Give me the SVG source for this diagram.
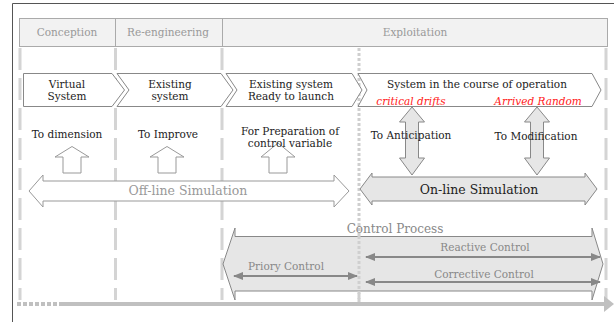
<svg xmlns="http://www.w3.org/2000/svg" width="614" height="322" viewBox="0 0 614 322">
<defs>
<style>
text{font-family:"DejaVu Serif",serif;font-size:10.5px;text-anchor:middle;fill:#222}
.hdr{fill:#999}
.gray{fill:#888}
.red{fill:#ff2020;font-style:italic}
.big{font-size:12.5px}
.vline{stroke:#d4d4d4;stroke-width:3;stroke-dasharray:22 8;fill:none}
.dot{stroke:#cfcfcf;stroke-width:3;stroke-dasharray:3 2;fill:none}
.chev{fill:#fff;stroke:#888;stroke-width:1}
.hollow{fill:#fff;stroke:#999;stroke-width:1}
.shade{fill:#e6e6e6;stroke:#888;stroke-width:1}
.dbl{stroke:#888;stroke-width:2;fill:none;marker-start:url(#ah);marker-end:url(#ah)}
</style>
<marker id="ah" viewBox="0 0 10 8" refX="9" refY="4" markerWidth="10" markerHeight="8" markerUnits="userSpaceOnUse" orient="auto-start-reverse">
<path d="M0,0 L10,4 L0,8 Z" fill="#888"/>
</marker>
</defs>
<rect width="614" height="322" fill="#fff"/>
<path d="M12.5,322 V3.5 H614" fill="none" stroke="#555" stroke-width="1"/>

<g id="header">
<rect x="19.5" y="18.5" width="588" height="28" fill="#f2f2f2" stroke="#aaa"/>
<line x1="115.5" y1="18.5" x2="115.5" y2="46.5" stroke="#aaa"/>
<line x1="222.5" y1="18.5" x2="222.5" y2="46.5" stroke="#aaa"/>
<text class="hdr" x="67" y="36">Conception</text>
<text class="hdr" x="168" y="36">Re-engineering</text>
<text class="hdr" x="415" y="36">Exploitation</text>
</g>

<g id="guides">
<line class="vline" x1="20" y1="48" x2="20" y2="300"/>
<line class="vline" x1="115.5" y1="48" x2="115.5" y2="300"/>
<line class="vline" x1="222" y1="48" x2="222" y2="300"/>
<line class="vline" x1="606" y1="48" x2="606" y2="300"/>
<line class="dot" x1="359" y1="48" x2="359" y2="302"/>
</g>

<g id="chevron-virtual">
<path class="chev" d="M23.5,73.5 H112 L124.5,90 L112,106.5 H23.5 Z"/>
<text x="67" y="88">Virtual</text>
<text x="67" y="100">System</text>
</g>
<g id="chevron-existing">
<path class="chev" d="M117,73.5 H221 L233,90 L221,106.5 H117 L129,90 Z"/>
<text x="170" y="88">Existing</text>
<text x="170" y="100">system</text>
</g>
<g id="chevron-ready">
<path class="chev" d="M226,73.5 H352 L362,90 L352,106.5 H226 L237,90 Z"/>
<text x="291" y="88">Existing system</text>
<text x="291" y="100">Ready to launch</text>
</g>
<g id="chevron-operation">
<path class="chev" d="M358,73.5 H592 L601,90 L592,106.5 H358 L367,90 Z"/>
<text x="477" y="88">System in the course of operation</text>
<text class="red" x="411" y="105">critical drifts</text>
<text class="red" x="538" y="105">Arrived Random</text>
</g>

<g id="offline-simulation">
<path class="hollow" d="M29,191 L43,175 V181 H334 V175 L349,191 L334,207 V201 H43 V207 Z"/>
<text class="hdr big" x="188" y="195">Off-line Simulation</text>
</g>

<g id="to-dimension">
<path class="hollow" d="M72,146.5 L89,157 H81 V173 H63 V157 H55 Z"/>
<text x="67" y="138">To dimension</text>
</g>
<g id="to-improve">
<path class="hollow" d="M167,146.5 L184,157 H176 V173 H158 V157 H150 Z"/>
<text x="168" y="138">To Improve</text>
</g>
<g id="for-preparation">
<path class="hollow" d="M278,143 L295,157 H287 V173 H269 V157 H261 Z"/>
<text x="290" y="135">For Preparation of</text>
<text x="290" y="147">control variable</text>
</g>

<g id="online-simulation">
<path class="shade" d="M360,189 L372,173 V177 H585 V173 L597,189 L585,205 V201 H372 V205 Z"/>
<text class="big" x="479" y="194">On-line Simulation</text>
</g>
<g id="to-anticipation">
<path class="shade" d="M412,107 L424.5,122 H418.5 V158 H424.5 L412,175 L399.5,158 H405.5 V122 H399.5 Z"/>
<text x="411" y="139">To Anticipation</text>
</g>
<g id="to-modification">
<path class="shade" d="M537,107 L549.5,122 H543.5 V158 H549.5 L537,175 L524.5,158 H530.5 V122 H524.5 Z"/>
<text x="536" y="140">To Modification</text>
</g>

<g id="control-process">
<path class="shade" d="M223,264 L235,228 V236.5 H592 V228 L603,264 L592,300 V291 H235 V300 Z"/>
<line class="dot" x1="359" y1="236" x2="359" y2="302"/>
<text class="gray" x="395" y="233" style="font-size:12px">Control Process</text>
</g>

<g id="connectors">
<line class="dbl" x1="234" y1="276" x2="357" y2="276"/>
<line class="dbl" x1="366" y1="257" x2="600" y2="257"/>
<line class="dbl" x1="366" y1="282" x2="600" y2="282"/>
</g>
<g id="control-labels">
<text class="gray" x="286" y="270">Priory Control</text>
<text class="gray" x="485" y="251">Reactive Control</text>
<text class="gray" x="484" y="278">Corrective Control</text>
</g>

<g id="timeline">
<line x1="17" y1="304" x2="60" y2="304" stroke="#c0c0c0" stroke-width="4" stroke-dasharray="4 2"/>
<line x1="60" y1="304" x2="605" y2="304" stroke="#c0c0c0" stroke-width="4"/>
<path d="M604,296 L614,304 L604,312 Z" fill="#c0c0c0"/>
</g>
</svg>
